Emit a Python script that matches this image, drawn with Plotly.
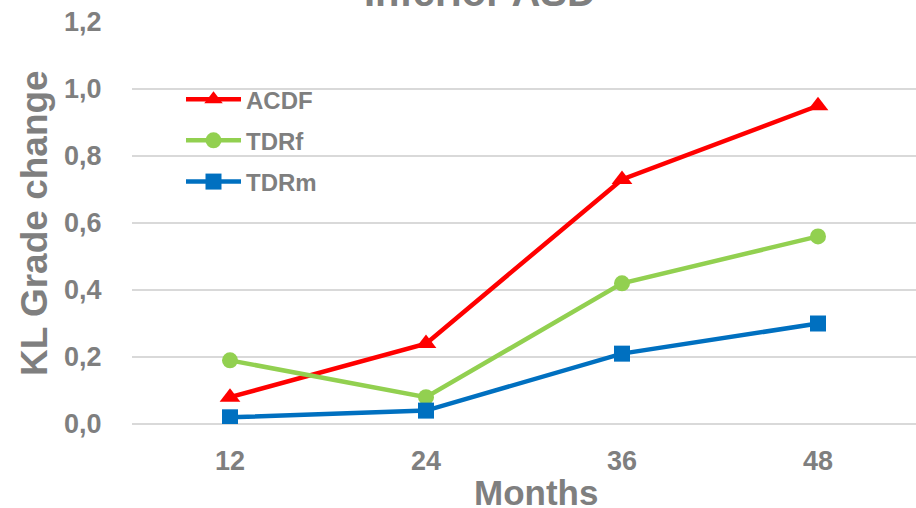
import plotly.graph_objects as go

# Follow-up time points (months) and mean KL grade change per group
months = ["12", "24", "36", "48"]
acdf = [0.08, 0.24, 0.73, 0.95]
tdrf = [0.19, 0.08, 0.42, 0.56]
tdrm = [0.02, 0.04, 0.21, 0.30]

y_ticks = [0.0, 0.2, 0.4, 0.6, 0.8, 1.0, 1.2]

GRAY = "#7f7f7f"
FONT = "Liberation Sans, Arial, sans-serif"

fig = go.Figure()
series = [
    ("ACDF", acdf, "#ff0000", "triangle-up", 18),
    ("TDRf", tdrf, "#92d050", "circle", 16),
    ("TDRm", tdrm, "#0070c0", "square", 16),
]
for name, vals, color, symbol, msize in series:
    fig.add_trace(go.Scatter(
        x=months, y=vals, name=name, legendgroup=name, mode="lines+markers",
        line=dict(color=color, width=4.5),
        marker=dict(color=color, symbol=symbol, size=msize),
    ))

fig.update_layout(
    width=916, height=508,
    margin=dict(l=132, r=0, t=22, b=84),
    paper_bgcolor="white", plot_bgcolor="white",
    separators=",.",
    font=dict(family=FONT, color=GRAY),
    showlegend=True,
    legend=dict(
        x=0.0625, y=0.863, xanchor="left", yanchor="top",
        font=dict(family=FONT, size=24, color=GRAY, weight="bold"),
        bgcolor="rgba(0,0,0,0)", tracegroupgap=7, itemwidth=55,
    ),
    annotations=[
        dict(text="<b>Inferior ASD</b>", xref="paper", yref="paper",
             x=0.444, y=1.0, yshift=6, xanchor="center", yanchor="bottom",
             showarrow=False, font=dict(family=FONT, size=40, color=GRAY)),
        dict(text="<b>Months</b>", xref="paper", yref="paper",
             x=0.515, y=0, yshift=-47, xanchor="center", yanchor="top",
             showarrow=False, font=dict(family=FONT, size=35, color=GRAY)),
        dict(text="<b>KL Grade change</b>", xref="paper", yref="paper",
             x=0, xshift=-98, y=0.5, xanchor="center", yanchor="middle",
             textangle=-90, showarrow=False,
             font=dict(family=FONT, size=37, color=GRAY)),
    ],
)

fig.update_xaxes(
    type="category", range=[-0.5, 3.5], automargin=False,
    showgrid=False, showline=False, zeroline=False,
    ticks="outside", ticklen=13, tickcolor="rgba(0,0,0,0)",
    tickfont=dict(family=FONT, size=27, color=GRAY, weight="bold"),
)
fig.update_yaxes(
    range=[0, 1.2], tickvals=y_ticks, tickformat=".1f", automargin=False,
    showgrid=True, gridcolor="#d9d9d9", gridwidth=2,
    zeroline=True, zerolinecolor="#d9d9d9", zerolinewidth=2,
    showline=False,
    ticks="outside", ticklen=24, tickcolor="rgba(0,0,0,0)",
    tickfont=dict(family=FONT, size=27, color=GRAY, weight="bold"),
)

fig.write_html("out.html")
